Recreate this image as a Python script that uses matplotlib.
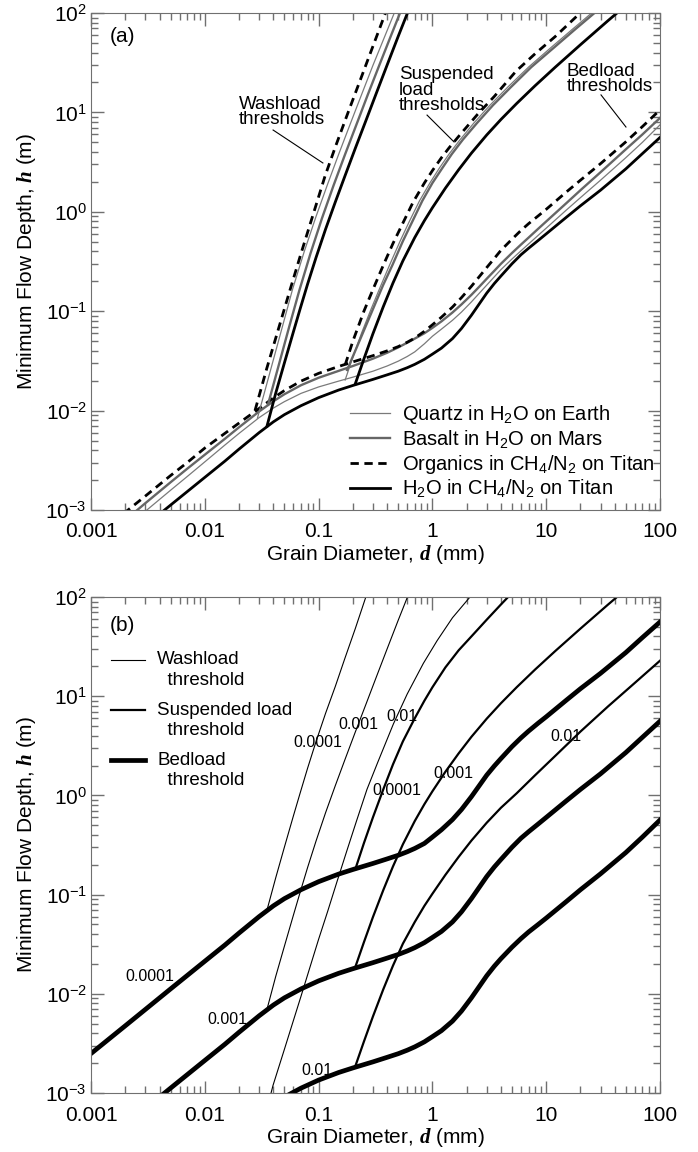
import numpy as np
import matplotlib
matplotlib.use('Agg')
import matplotlib.pyplot as plt
from matplotlib.ticker import LogLocator, NullFormatter

plt.rcParams['font.family'] = ['Liberation Sans', 'DejaVu Sans']
plt.rcParams['mathtext.fontset'] = 'custom'
plt.rcParams['mathtext.rm'] = 'Liberation Sans'
plt.rcParams['mathtext.it'] = 'Liberation Sans:italic'
plt.rcParams['mathtext.bf'] = 'Liberation Sans:bold'
plt.rcParams['mathtext.bfit'] = 'Liberation Serif:italic:bold'

# axis ticks
x_ticks = [0.001, 0.01, 0.1, 1, 10, 100]
x_ticklabels = ['0.001', '0.01', '0.1', '1', '10', '100']

# grain diameters (mm) for the bedload curves
d_bed = [0.001, 0.002, 0.003, 0.005, 0.007, 0.01, 0.015, 0.02, 0.03, 0.04, 0.05,
         0.07, 0.1, 0.15, 0.2, 0.3, 0.4, 0.5, 0.6, 0.7, 0.85, 1, 1.2, 1.5, 1.8,
         2.2, 2.6, 3, 3.5, 4, 5, 6, 7, 8.5, 10, 15, 20, 30, 50, 70, 100]

# ---- panel (a): bedload thresholds, flow depth in m
quartz_bed = [0.00034, 0.00066, 0.00097, 0.00158, 0.00217, 0.00305, 0.0045, 0.0059,
              0.0085, 0.0106, 0.0123, 0.0149, 0.0173, 0.0198, 0.0217, 0.0249, 0.0281,
              0.0314, 0.035, 0.039, 0.047, 0.056, 0.066, 0.081, 0.098, 0.124, 0.153,
              0.183, 0.222, 0.262, 0.335, 0.405, 0.475, 0.58, 0.685, 1.04, 1.39,
              2.08, 3.5, 5.0, 7.5]
basalt_bed = [0.0004, 0.00079, 0.00117, 0.0019, 0.0026, 0.0036, 0.0052, 0.0068,
              0.0098, 0.0124, 0.0146, 0.018, 0.0214, 0.0251, 0.0281, 0.0333, 0.0382,
              0.0432, 0.0482, 0.053, 0.06, 0.068, 0.079, 0.097, 0.117, 0.146, 0.178,
              0.212, 0.255, 0.3, 0.385, 0.468, 0.55, 0.675, 0.8, 1.22, 1.65, 2.5,
              4.25, 6.0, 8.8]
organics_bed = [0.0005, 0.00095, 0.00138, 0.00222, 0.003, 0.0042, 0.0059, 0.0075,
                0.0105, 0.0134, 0.0159, 0.0198, 0.0237, 0.0278, 0.0309, 0.0357, 0.0399,
                0.044, 0.0487, 0.0537, 0.0628, 0.073, 0.087, 0.11, 0.137, 0.178, 0.225,
                0.275, 0.34, 0.41, 0.53, 0.65, 0.76, 0.91, 1.06, 1.58, 2.08, 3.05,
                5.05, 7.2, 10.6]
# H2O ice on Titan, S = 0.001 (the same curve appears in both panels)
h2o_bed = [0.00025, 0.000476, 0.000695, 0.00112, 0.00153, 0.00213, 0.0031, 0.0041,
           0.0060, 0.0077, 0.0091, 0.0112, 0.0135, 0.0161, 0.0179, 0.0206, 0.0229,
           0.0249, 0.027, 0.0292, 0.0328, 0.037, 0.0425, 0.053, 0.067, 0.091, 0.12,
           0.152, 0.19, 0.226, 0.30, 0.37, 0.43, 0.515, 0.60, 0.88, 1.15, 1.65, 2.7,
           3.85, 5.6]

# suspended load thresholds
quartz_susp_d = [0.171, 0.2, 0.24, 0.29, 0.347, 0.42, 0.52, 0.63, 0.77, 0.95, 1.15,
                 1.4, 1.75, 2.3, 3.2, 4.6, 7, 11, 17, 27.4]
quartz_susp_h = [0.0203, 0.0346, 0.0614, 0.106, 0.174, 0.291, 0.507, 0.81, 1.29, 1.95,
                 2.75, 3.81, 5.32, 7.76, 11.8, 18.0, 28.6, 44.9, 68.7, 109]
basalt_susp_d = [0.178, 0.205, 0.24, 0.29, 0.368, 0.445, 0.55, 0.67, 0.815, 1.0, 1.22,
                 1.48, 1.85, 2.45, 3.4, 4.9, 7.4, 11.7, 18, 29]
basalt_susp_h = [0.0256, 0.0375, 0.0573, 0.0956, 0.182, 0.291, 0.507, 0.81, 1.29, 1.95,
                 2.75, 3.81, 5.32, 7.76, 11.8, 18.0, 28.6, 44.9, 68.7, 109]
organics_susp_d = [0.171, 0.2, 0.25, 0.3, 0.37, 0.45, 0.55, 0.676, 0.85, 1.0, 1.2, 1.4,
                   1.8, 2.5, 3.5, 5.43, 8, 12, 19.5, 30]
organics_susp_h = [0.0288, 0.05, 0.1, 0.165, 0.29, 0.48, 0.77, 1.25, 1.95, 2.6, 3.5,
                   4.4, 6.2, 9.6, 14.5, 26, 39, 58, 98, 150]
h2o_susp_d = [0.21, 0.25, 0.3, 0.37, 0.45, 0.55, 0.7, 0.85, 1.0, 1.3, 1.7, 2.2, 3, 4,
              5.5, 8, 12, 20, 35, 60, 100]
h2o_susp_h = [0.0186, 0.0331, 0.0593, 0.111, 0.192, 0.321, 0.552, 0.815, 1.10, 1.73,
              2.65, 3.89, 5.93, 8.49, 12.3, 18.6, 28.5, 48.0, 84, 142, 233]

# washload thresholds
quartz_wash_d = [0.029, 0.036, 0.046, 0.059, 0.075, 0.095, 0.12, 0.15, 0.19, 0.24,
                 0.3, 0.38, 0.478]
quartz_wash_h = [0.0084, 0.0208, 0.0582, 0.166, 0.403, 0.9, 1.9, 3.79, 7.7, 15.4, 29.7,
                 57.7, 110]
basalt_wash_d = [0.0359, 0.044, 0.055, 0.0676, 0.085, 0.107, 0.135, 0.17, 0.215, 0.27,
                 0.34, 0.43, 0.54]
basalt_wash_h = [0.0115, 0.027, 0.069, 0.161, 0.384, 0.86, 1.83, 3.73, 7.55, 15.0,
                 29.5, 58.3, 112]
organics_wash_d = [0.0276, 0.035, 0.045, 0.056, 0.07, 0.09, 0.114, 0.14, 0.185, 0.24,
                   0.3, 0.376, 0.42]
organics_wash_h = [0.0100, 0.0265, 0.0701, 0.163, 0.38, 0.96, 2.3, 4.47, 10.6, 23.4,
                   46.3, 92, 128]
h2o_wash_d = [0.0352, 0.042, 0.05, 0.06, 0.0687, 0.08, 0.095, 0.115, 0.14, 0.17, 0.21,
              0.26, 0.32, 0.4, 0.5, 0.62]
h2o_wash_h = [0.0070, 0.015, 0.0301, 0.0619, 0.105, 0.1875, 0.348, 0.667, 1.25, 2.28,
              4.35, 8.24, 15.4, 30.0, 58.1, 108]

# ---- panel (b): H2O on Titan for slopes 0.0001 / 0.001 (h2o_*) / 0.01
bed_s0001 = [0.0025, 0.00476, 0.00695, 0.0112, 0.0153, 0.0213, 0.031, 0.041, 0.060,
             0.077, 0.091, 0.112, 0.135, 0.161, 0.179, 0.206, 0.229, 0.249, 0.27,
             0.292, 0.328, 0.38, 0.45, 0.57, 0.72, 0.97, 1.27, 1.6, 1.98, 2.35, 3.1,
             3.8, 4.45, 5.35, 6.2, 9.1, 11.9, 17.0, 27.5, 39, 56]
bed_s01 = [0.000025, 0.0000476, 0.0000695, 0.000112, 0.000153, 0.000213, 0.00031,
           0.00041, 0.00060, 0.00077, 0.00091, 0.00112, 0.00135, 0.00161, 0.00179,
           0.00206, 0.00229, 0.00249, 0.0027, 0.00292, 0.00328, 0.0037, 0.00425,
           0.0053, 0.0067, 0.0091, 0.012, 0.0152, 0.019, 0.0226, 0.0295, 0.036,
           0.042, 0.05, 0.058, 0.085, 0.112, 0.162, 0.265, 0.38, 0.565]

susp_s0001_d = [0.21, 0.25, 0.3, 0.37, 0.45, 0.55, 0.7, 0.85, 1.0, 1.3, 1.7, 2.2, 3,
                4, 5.5]
susp_s0001_h = [0.18, 0.33, 0.6, 1.15, 2.05, 3.5, 6.0, 9.0, 12.3, 19.5, 29, 40, 59,
                84, 123]
susp_s01_d = [0.21, 0.25, 0.3, 0.37, 0.45, 0.55, 0.7, 0.85, 1.0, 1.3, 1.7, 2.2, 3, 4,
              5.5, 8, 12, 20, 35, 60, 100]
susp_s01_h = [0.00186, 0.0033, 0.0059, 0.0111, 0.0192, 0.032, 0.053, 0.077, 0.102,
              0.158, 0.24, 0.35, 0.53, 0.75, 1.05, 1.6, 2.5, 4.4, 7.9, 13.6, 22.8]

wash_s0001_d = [0.0352, 0.042, 0.05, 0.06, 0.0687, 0.08, 0.095, 0.115, 0.14, 0.17,
                0.21, 0.26]
wash_s0001_h = [0.070, 0.148, 0.30, 0.62, 1.05, 1.88, 3.5, 6.7, 12.5, 24, 48, 100]
wash_s01_d = [0.0352, 0.0398, 0.05, 0.06, 0.07, 0.084, 0.1, 0.12, 0.145, 0.178, 0.215,
              0.266, 0.33, 0.454, 0.6, 0.832, 1.1, 1.5, 2.14]
wash_s01_h = [0.00070, 0.0012, 0.00275, 0.00537, 0.00944, 0.0186, 0.0355, 0.0676,
              0.135, 0.282, 0.55, 1.15, 2.14, 5.25, 10.5, 21.4, 36.3, 61.7, 100]

SPINE = '#707070'


def style_axis(ax):
    ax.set_xscale('log')
    ax.set_yscale('log')
    ax.set_xlim(1e-3, 100)
    ax.set_ylim(1e-3, 100)
    ax.set_xticks(x_ticks, labels=x_ticklabels)
    ax.xaxis.set_minor_locator(LogLocator(base=10, subs=np.arange(2, 10), numticks=20))
    ax.yaxis.set_minor_locator(LogLocator(base=10, subs=np.arange(2, 10), numticks=20))
    ax.xaxis.set_minor_formatter(NullFormatter())
    ax.yaxis.set_minor_formatter(NullFormatter())
    ax.tick_params(which='both', direction='in', top=True, right=True,
                   color=SPINE, width=1, labelsize=15)
    ax.tick_params(which='major', length=9)
    ax.tick_params(which='minor', length=5)
    ax.tick_params(axis='x', pad=9)
    ax.tick_params(axis='y', pad=3)
    for s in ax.spines.values():
        s.set_color(SPINE)
    ax.set_xlabel(r'Grain Diameter, $\mathbfit{d}$ (mm)', fontsize=15, labelpad=1)
    ax.set_ylabel(r'Minimum Flow Depth, $\mathbfit{h}$ (m)', fontsize=15, labelpad=5)


fig = plt.figure(figsize=(6.98, 11.52), dpi=100)
ax1 = fig.add_axes([0.1304, 0.5573, 0.8152, 0.4314])
ax2 = fig.add_axes([0.1304, 0.0512, 0.8152, 0.4306])

# ---------------- panel (a)
q_kw = dict(color='#7a7a7a', lw=0.9)
b_kw = dict(color='#666666', lw=1.7)
o_kw = dict(color='black', lw=2.0, dashes=(3, 2))
w_kw = dict(color='black', lw=2.0)

lq, = ax1.plot(d_bed, quartz_bed, **q_kw)
lb, = ax1.plot(d_bed, basalt_bed, **b_kw)
lo, = ax1.plot(d_bed, organics_bed, **o_kw)
lw_, = ax1.plot(d_bed, h2o_bed, **w_kw)

ax1.plot(quartz_susp_d, quartz_susp_h, **q_kw)
ax1.plot(basalt_susp_d, basalt_susp_h, **b_kw)
ax1.plot(organics_susp_d, organics_susp_h, **o_kw)
ax1.plot(h2o_susp_d, h2o_susp_h, **w_kw)

ax1.plot(quartz_wash_d, quartz_wash_h, **q_kw)
ax1.plot(basalt_wash_d, basalt_wash_h, **b_kw)
ax1.plot(organics_wash_d, organics_wash_h, **o_kw)
ax1.plot(h2o_wash_d, h2o_wash_h, **w_kw)

style_axis(ax1)
ax1.legend([lq, lb, lo, lw_],
           [r'Quartz in H$_2$O on Earth', r'Basalt in H$_2$O on Mars',
            r'Organics in CH$_4$/N$_2$ on Titan', r'H$_2$O in CH$_4$/N$_2$ on Titan'],
           loc='lower left', bbox_to_anchor=(0.455, 0.02), frameon=False,
           fontsize=14.5, handlelength=2.0, handletextpad=0.6, labelspacing=0.1,
           borderpad=0, borderaxespad=0)

ax1.text(0.033, 0.952, '(a)', transform=ax1.transAxes, fontsize=15,
         ha='left', va='center')
ann = dict(fontsize=13.5, ha='left', va='center', linespacing=0.85)
ax1.text(0.020, 10.1, 'Washload\nthresholds', **ann)
ax1.plot([0.0398, 0.109], [6.65, 3.1], color='black', lw=0.8)
ax1.text(0.509, 16.8, 'Suspended\nload\nthresholds', **ann)
ax1.plot([0.897, 1.55], [9.4, 5.04], color='black', lw=0.8)
ax1.text(15.2, 21.7, 'Bedload\nthresholds', **ann)
ax1.plot([30.3, 50.2], [15.0, 7.13], color='black', lw=0.8)

# ---------------- panel (b)
thin, mid, thick = 0.8, 1.6, 3.4
ax2.plot(d_bed, bed_s0001, color='black', lw=thick)
ax2.plot(d_bed, h2o_bed, color='black', lw=thick)
ax2.plot(d_bed, bed_s01, color='black', lw=thick)
ax2.plot(susp_s0001_d, susp_s0001_h, color='black', lw=mid)
ax2.plot(h2o_susp_d, h2o_susp_h, color='black', lw=mid)
ax2.plot(susp_s01_d, susp_s01_h, color='black', lw=mid)
ax2.plot(wash_s0001_d, wash_s0001_h, color='black', lw=thin)
ax2.plot(h2o_wash_d, h2o_wash_h, color='black', lw=thin)
ax2.plot(wash_s01_d, wash_s01_h, color='black', lw=thin)

style_axis(ax2)
ax2.text(0.033, 0.942, '(b)', transform=ax2.transAxes, fontsize=15,
         ha='left', va='center')

# legend of panel (b)
for y, w, lab in [(0.873, thin, 'Washload'), (0.772, mid, 'Suspended load'),
                  (0.671, thick, 'Bedload')]:
    ax2.plot([0.035, 0.095], [y, y], transform=ax2.transAxes, color='black', lw=w)
    ax2.text(0.116, y, lab, transform=ax2.transAxes, fontsize=13.5, va='center')
    ax2.text(0.116, y - 0.041, '  threshold', transform=ax2.transAxes,
             fontsize=13.5, va='center')

lab = dict(fontsize=11.5, ha='center', va='center')
ax2.text(0.0989, 3.45, '0.0001', **lab)
ax2.text(0.222, 5.13, '0.001', **lab)
ax2.text(0.541, 6.17, '0.01', **lab)
ax2.text(0.489, 1.13, '0.0001', **lab)
ax2.text(1.52, 1.68, '0.001', **lab)
ax2.text(14.9, 3.88, '0.01', **lab)
ax2.text(0.0033, 0.0148, '0.0001', **lab)
ax2.text(0.0157, 0.00545, '0.001', **lab)
ax2.text(0.0968, 0.0017, '0.01', **lab)

fig.savefig('out.png', dpi=100)
